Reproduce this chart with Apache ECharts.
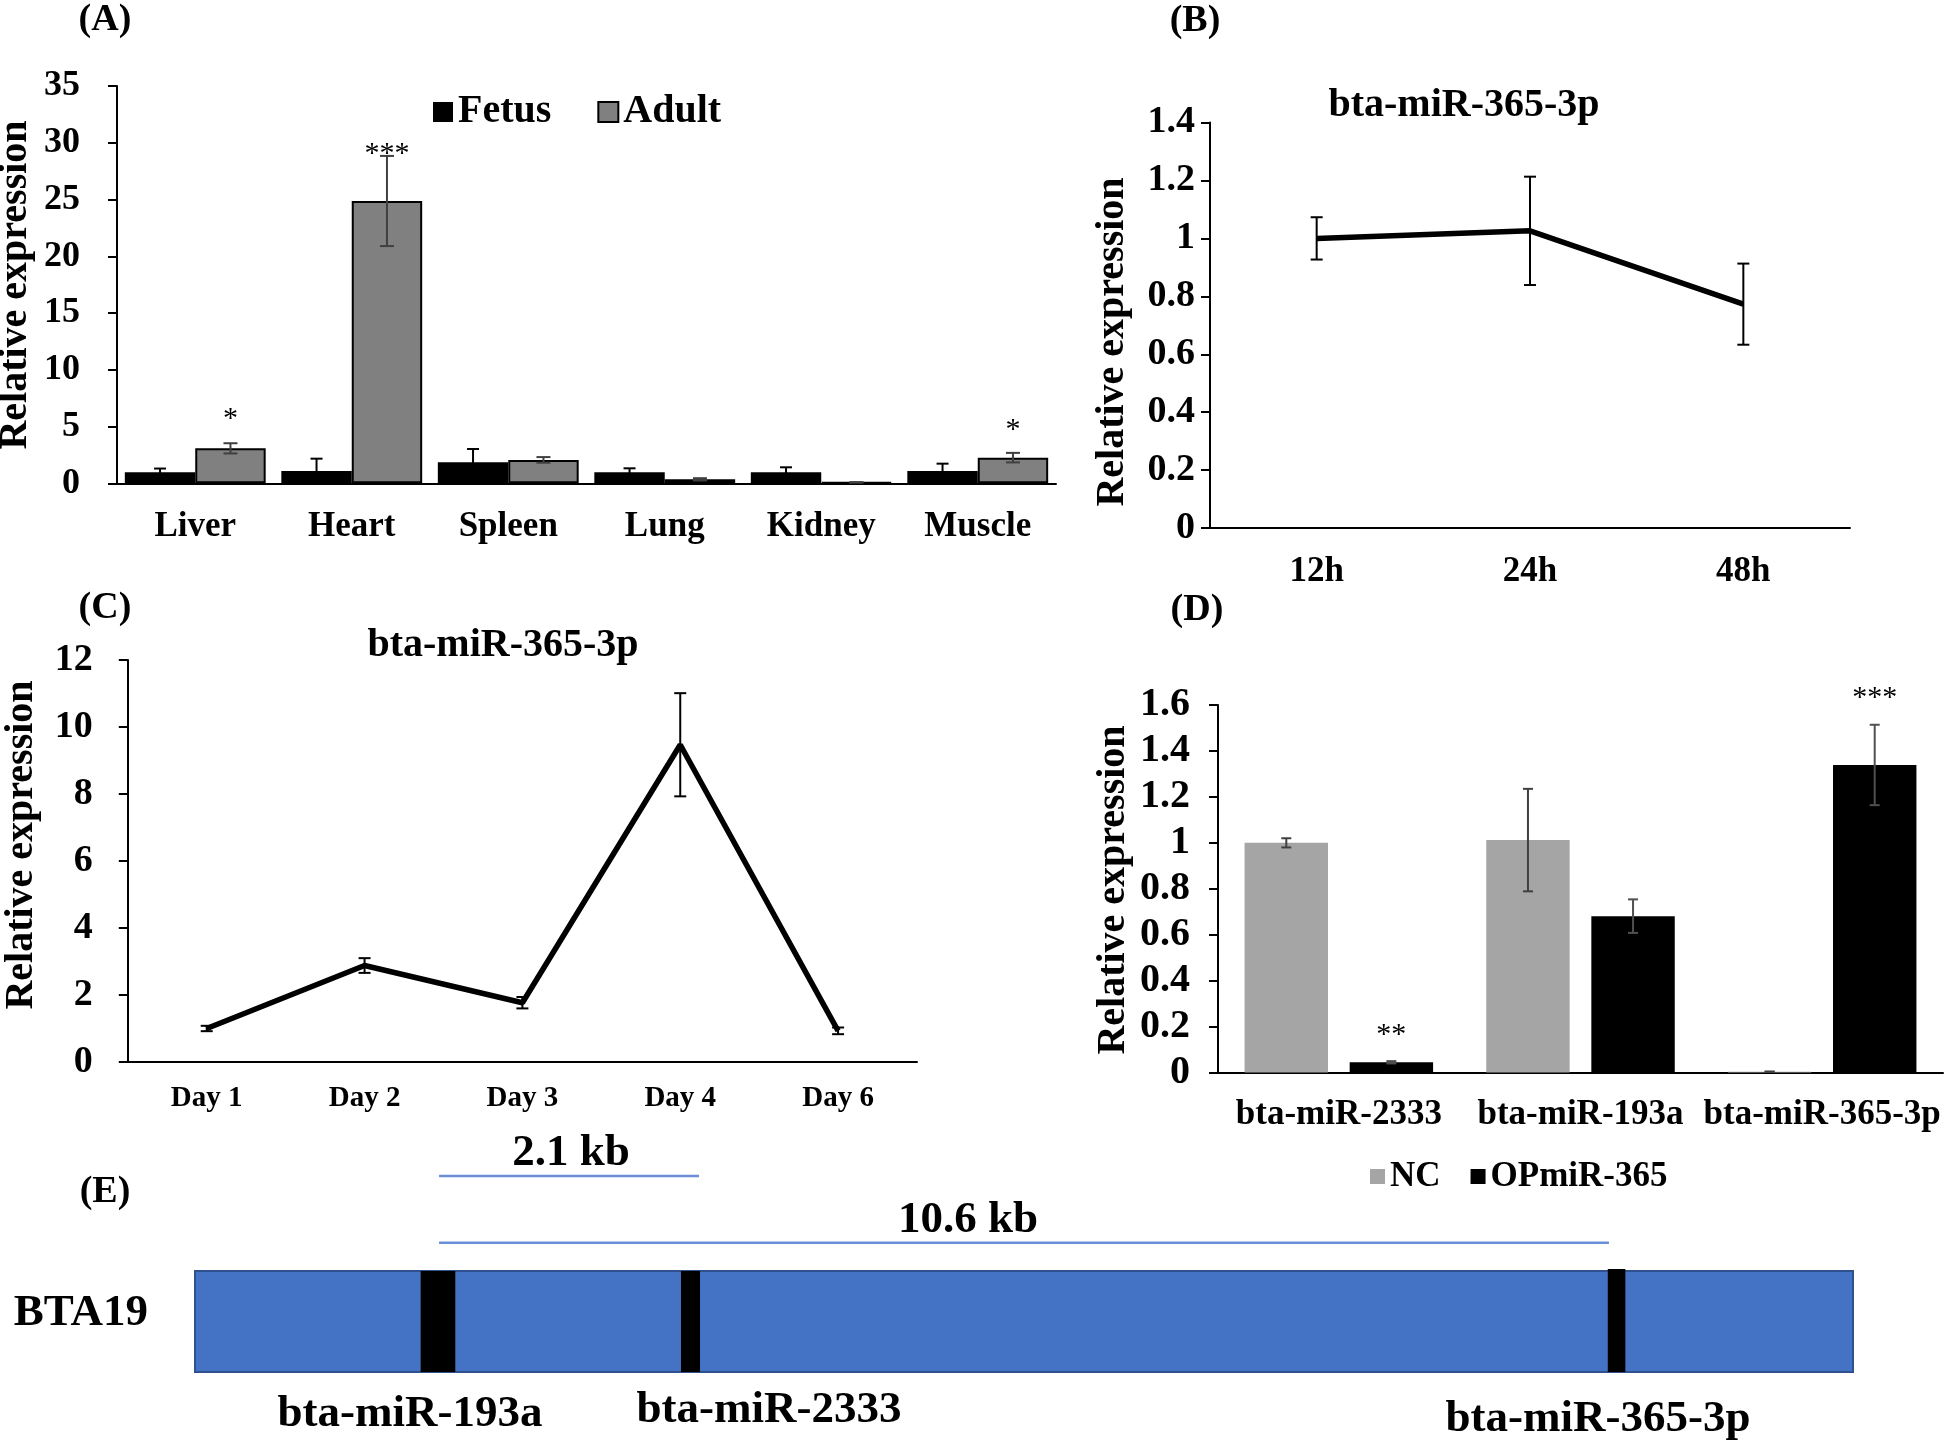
<!DOCTYPE html>
<html>
<head>
<meta charset="utf-8">
<script src="https://cdn.jsdelivr.net/npm/echarts@6/dist/echarts.min.js"></script>
<style>html,body{margin:0;padding:0;background:#fff}#chart{width:1946px;height:1447px}</style>
</head>
<body>
<div id="chart"></div>
<script>
// ---------- Panel A data ----------
const tissues = ['Liver', 'Heart', 'Spleen', 'Lung', 'Kidney', 'Muscle'];
const fetusVals = [0.97, 1.09, 1.85, 0.97, 0.97, 1.09];
const fetusErr = [0.33, 1.08, 1.17, 0.35, 0.44, 0.64];
const adultVals = [3.08, 24.87, 2.06, 0.35, 0.08, 2.26];
const adultErr = [0.45, 3.97, 0.25, 0.1, 0.02, 0.42];
const sigTextA = ['*', '***', '*'];
const sigCatA = [0, 1, 5];
const sigYA = [6.2, 29.6, 5.3];
const ticksA = [0, 35, 5];

// ---------- Panel B data ----------
const timesB = ['12h', '24h', '48h'];
const valsB = [1.0, 1.026, 0.773];
const errB = [0.073, 0.187, 0.14];

// ---------- Panel C data ----------
const daysC = ['Day 1', 'Day 2', 'Day 3', 'Day 4', 'Day 6'];
const valsC = [1.0, 2.88, 1.77, 9.47, 0.93];
const errC = [0.08, 0.22, 0.17, 1.54, 0.1];

// ---------- Panel D data ----------
const mirsD = ['bta-miR-2333', 'bta-miR-193a', 'bta-miR-365-3p'];
const ncVals = [1.0, 1.012, 0.004];
const ncErr = [0.02, 0.223, 0];
const opVals = [0.045, 0.681, 1.339];
const opErr = [0.005, 0.073, 0.175];
const sigTextD = ['**', '***'];
const sigCatD = [0, 2];
const sigYD = [0.19, 1.66];

// ---------- Panel E (schematic units along BTA19, 0-100) ----------
const chromSpan = [0, 100];
const bandStart = [13.61, 29.31, 85.21];
const bandEnd = [15.70, 30.46, 86.27];
const bandTop = [1.0, 1.0, 1.02];
const scaleStart = [14.72, 14.72];
const scaleEnd = [30.40, 85.28];
const scaleLevel = [1.94, 1.28];
const scaleText = ['2.1 kb', '10.6 kb'];
const scaleTextX = [22.68, 46.62];
const scaleTextY = [2.16, 1.50];
const eLabels = ['BTA19', 'bta-miR-193a', 'bta-miR-2333', 'bta-miR-365-3p'];
const eLabelX = [-6.88, 12.97, 34.62, 84.62];
const eLabelY = [0.58, -0.42, -0.38, -0.47];

const F = 'Liberation Serif';
const txt = (s) => ({ fontFamily: F, fontWeight: 'bold', fontSize: s, color: '#000' });
const axisLine = { show: true, lineStyle: { color: '#000', width: 2 } };

function errItem(offsetFrac, capW, color, lw) {
  return function (params, api) {
    const i = api.value(0), v = api.value(1), e = api.value(2);
    const catW = api.size([1, 0])[0];
    const top = api.coord([i, v + e]);
    const bot = api.coord([i, Math.max(v - e, 0)]);
    const x = top[0] + offsetFrac * catW;
    const st = { stroke: color, lineWidth: lw };
    return {
      type: 'group', children: [
        { type: 'line', shape: { x1: x, y1: top[1], x2: x, y2: bot[1] }, style: st },
        { type: 'line', shape: { x1: x - capW / 2, y1: top[1], x2: x + capW / 2, y2: top[1] }, style: st },
        { type: 'line', shape: { x1: x - capW / 2, y1: bot[1], x2: x + capW / 2, y2: bot[1] }, style: st }
      ]
    };
  };
}
function starItem(offsetFrac, texts, size) {
  return function (params, api) {
    const catW = api.size([1, 0])[0];
    const p = api.coord([api.value(0), api.value(1)]);
    return {
      type: 'text', x: p[0] + offsetFrac * catW, y: p[1] + size * 0.22,
      style: { text: texts[params.dataIndex], fontFamily: F, fontSize: size, fill: '#000', align: 'center', verticalAlign: 'middle' }
    };
  };
}
const triple = (vals, errs) => vals.map((v, i) => [i, v, errs[i]]);
const gtxt = (x, y, text, size, rot) => ({ type: 'text', x, y, rotation: rot || 0,
  style: { text, font: 'bold ' + size + 'px ' + F, fill: '#000', align: 'center', verticalAlign: 'middle' } });

const option = {
  animation: false,
  backgroundColor: '#fff',
  textStyle: { fontFamily: F },
  grid: [
    { left: 117, top: 86, width: 939, height: 397.3 },
    { left: 1210, top: 122.5, width: 640, height: 405.6 },
    { left: 127.8, top: 660, width: 789.2, height: 402 },
    { left: 1218, top: 705, width: 725, height: 367.6 },
    { left: 195, top: 1119.5, width: 1658, height: 323.2 }
  ],
  xAxis: [
    { gridIndex: 0, type: 'category', data: tissues, axisLine, axisTick: { show: false }, axisLabel: Object.assign(txt(35), { margin: 26, interval: 0 }) },
    { gridIndex: 1, type: 'category', data: timesB, axisLine, axisTick: { show: false }, axisLabel: Object.assign(txt(35), { margin: 26, interval: 0 }) },
    { gridIndex: 2, type: 'category', data: daysC, axisLine, axisTick: { show: false }, axisLabel: Object.assign(txt(29), { margin: 22, interval: 0 }) },
    { gridIndex: 3, type: 'category', data: mirsD, axisLine, axisTick: { show: false }, axisLabel: Object.assign(txt(35), { margin: 25, interval: 0 }) },
    { gridIndex: 4, type: 'value', min: 0, max: 100, show: false }
  ],
  yAxis: [
    { gridIndex: 0, type: 'value', min: ticksA[0], max: ticksA[1], interval: ticksA[2], axisLine, splitLine: { show: false },
      axisTick: { show: true, length: 9, lineStyle: { color: '#000', width: 2 } }, axisLabel: Object.assign(txt(36), { margin: 37 }) },
    { gridIndex: 1, type: 'value', min: 0, max: 1.4, interval: 0.2, axisLine, splitLine: { show: false },
      axisTick: { show: true, length: 9, lineStyle: { color: '#000', width: 2 } }, axisLabel: Object.assign(txt(38), { margin: 15 }) },
    { gridIndex: 2, type: 'value', min: 0, max: 12, interval: 2, axisLine, splitLine: { show: false },
      axisTick: { show: true, length: 9, lineStyle: { color: '#000', width: 2 } }, axisLabel: Object.assign(txt(38), { margin: 35 }) },
    { gridIndex: 3, type: 'value', min: 0, max: 1.6, interval: 0.2, axisLine, splitLine: { show: false },
      axisTick: { show: true, length: 9, lineStyle: { color: '#000', width: 2 } }, axisLabel: Object.assign(txt(40), { margin: 28 }) },
    { gridIndex: 4, type: 'value', min: -0.7, max: 2.5, show: false }
  ],
  legend: [
    { data: ['Fetus', 'Adult'], left: 428, top: 87, icon: 'rect', itemWidth: 20, itemHeight: 20, itemGap: 46, textStyle: txt(40) },
    { data: ['NC', 'OPmiR-365'], left: 1365, top: 1154, icon: 'rect', itemWidth: 15, itemHeight: 15, itemGap: 30, textStyle: txt(35) }
  ],
  graphic: [
    gtxt(105, 20, '(A)', 38), gtxt(1195, 21, '(B)', 38), gtxt(105, 608, '(C)', 38), gtxt(1197, 610, '(D)', 38), gtxt(105, 1192, '(E)', 38),
    gtxt(1464, 106, 'bta-miR-365-3p', 40), gtxt(503, 646, 'bta-miR-365-3p', 40),
    gtxt(16, 285, 'Relative expression', 40, Math.PI / 2),
    gtxt(1113, 342, 'Relative expression', 40, Math.PI / 2),
    gtxt(22, 845, 'Relative expression', 40, Math.PI / 2),
    gtxt(1114, 890, 'Relative expression', 40, Math.PI / 2)
  ],
  series: [
    // Panel A
    { name: 'Fetus', type: 'bar', xAxisIndex: 0, yAxisIndex: 0, data: fetusVals, barGap: '0%', barCategoryGap: '10%', itemStyle: { color: '#000' } },
    { name: 'Adult', type: 'bar', xAxisIndex: 0, yAxisIndex: 0, data: adultVals, itemStyle: { color: '#808080', borderColor: '#000', borderWidth: 2 } },
    { type: 'custom', xAxisIndex: 0, yAxisIndex: 0, z: 5, silent: true, data: triple(fetusVals, fetusErr), renderItem: errItem(-0.225, 12, '#000', 2) },
    { type: 'custom', xAxisIndex: 0, yAxisIndex: 0, z: 5, silent: true, data: triple(adultVals, adultErr), renderItem: errItem(0.225, 14, '#404040', 2) },
    { type: 'custom', xAxisIndex: 0, yAxisIndex: 0, z: 5, silent: true, data: sigCatA.map((c, i) => [c, sigYA[i]]), renderItem: starItem(0.225, sigTextA, 30) },
    // Panel B
    { type: 'line', xAxisIndex: 1, yAxisIndex: 1, data: valsB, symbol: 'none', lineStyle: { color: '#000', width: 5.5 } },
    { type: 'custom', xAxisIndex: 1, yAxisIndex: 1, z: 5, silent: true, data: triple(valsB, errB), renderItem: errItem(0, 12, '#000', 2) },
    // Panel C
    { type: 'line', xAxisIndex: 2, yAxisIndex: 2, data: valsC, symbol: 'none', lineStyle: { color: '#000', width: 5.5 } },
    { type: 'custom', xAxisIndex: 2, yAxisIndex: 2, z: 5, silent: true, data: triple(valsC, errC), renderItem: errItem(0, 12, '#000', 2) },
    // Panel D
    { name: 'NC', type: 'bar', xAxisIndex: 3, yAxisIndex: 3, data: ncVals, barGap: '26%', barCategoryGap: '22%', itemStyle: { color: '#a5a5a5' } },
    { name: 'OPmiR-365', type: 'bar', xAxisIndex: 3, yAxisIndex: 3, data: opVals, itemStyle: { color: '#000' } },
    { type: 'custom', xAxisIndex: 3, yAxisIndex: 3, z: 5, silent: true, data: triple(ncVals, ncErr), renderItem: errItem(-0.2174, 10, '#404040', 2) },
    { type: 'custom', xAxisIndex: 3, yAxisIndex: 3, z: 5, silent: true, data: triple(opVals, opErr), renderItem: errItem(0.2174, 10, '#505050', 2) },
    { type: 'custom', xAxisIndex: 3, yAxisIndex: 3, z: 5, silent: true, data: sigCatD.map((c, i) => [c, sigYD[i]]), renderItem: starItem(0.2174, sigTextD, 30) },
    // Panel E
    { type: 'custom', xAxisIndex: 4, yAxisIndex: 4, silent: true, z: 2, data: [chromSpan],
      renderItem: (p, api) => {
        const a = api.coord([api.value(0), 1]), b = api.coord([api.value(1), 0]);
        return { type: 'rect', shape: { x: a[0], y: a[1], width: b[0] - a[0], height: b[1] - a[1] }, style: { fill: '#4472c4', stroke: '#2f528f', lineWidth: 2 } };
      } },
    { type: 'custom', xAxisIndex: 4, yAxisIndex: 4, silent: true, z: 3, data: bandStart.map((s, i) => [s, bandEnd[i], bandTop[i]]),
      renderItem: (p, api) => {
        const a = api.coord([api.value(0), api.value(2)]), b = api.coord([api.value(1), 0]);
        return { type: 'rect', shape: { x: a[0], y: a[1], width: b[0] - a[0], height: b[1] - a[1] }, style: { fill: '#000' } };
      } },
    { type: 'custom', xAxisIndex: 4, yAxisIndex: 4, silent: true, z: 3, data: scaleStart.map((s, i) => [s, scaleEnd[i], scaleLevel[i], scaleTextX[i], scaleTextY[i]]),
      renderItem: (p, api) => {
        const a = api.coord([api.value(0), api.value(2)]), b = api.coord([api.value(1), api.value(2)]);
        const t = api.coord([api.value(3), api.value(4)]);
        return { type: 'group', children: [
          { type: 'line', shape: { x1: a[0], y1: a[1], x2: b[0], y2: b[1] }, style: { stroke: '#6b8fd6', lineWidth: 2.5 } },
          { type: 'text', x: t[0], y: t[1], style: { text: scaleText[p.dataIndex], font: 'bold 45px ' + F, fill: '#000', align: 'center', verticalAlign: 'middle' } }
        ] };
      } },
    { type: 'custom', xAxisIndex: 4, yAxisIndex: 4, silent: true, z: 3, data: eLabelX.map((x, i) => [x, eLabelY[i]]),
      renderItem: (p, api) => {
        const t = api.coord([api.value(0), api.value(1)]);
        return { type: 'text', x: t[0], y: t[1], style: { text: eLabels[p.dataIndex], font: 'bold 45px ' + F, fill: '#000', align: 'center', verticalAlign: 'middle' } };
      } }
  ]
};
const chart = echarts.init(document.getElementById('chart'), null, { renderer: 'canvas' });
chart.setOption(option);
</script>
</body>
</html>
